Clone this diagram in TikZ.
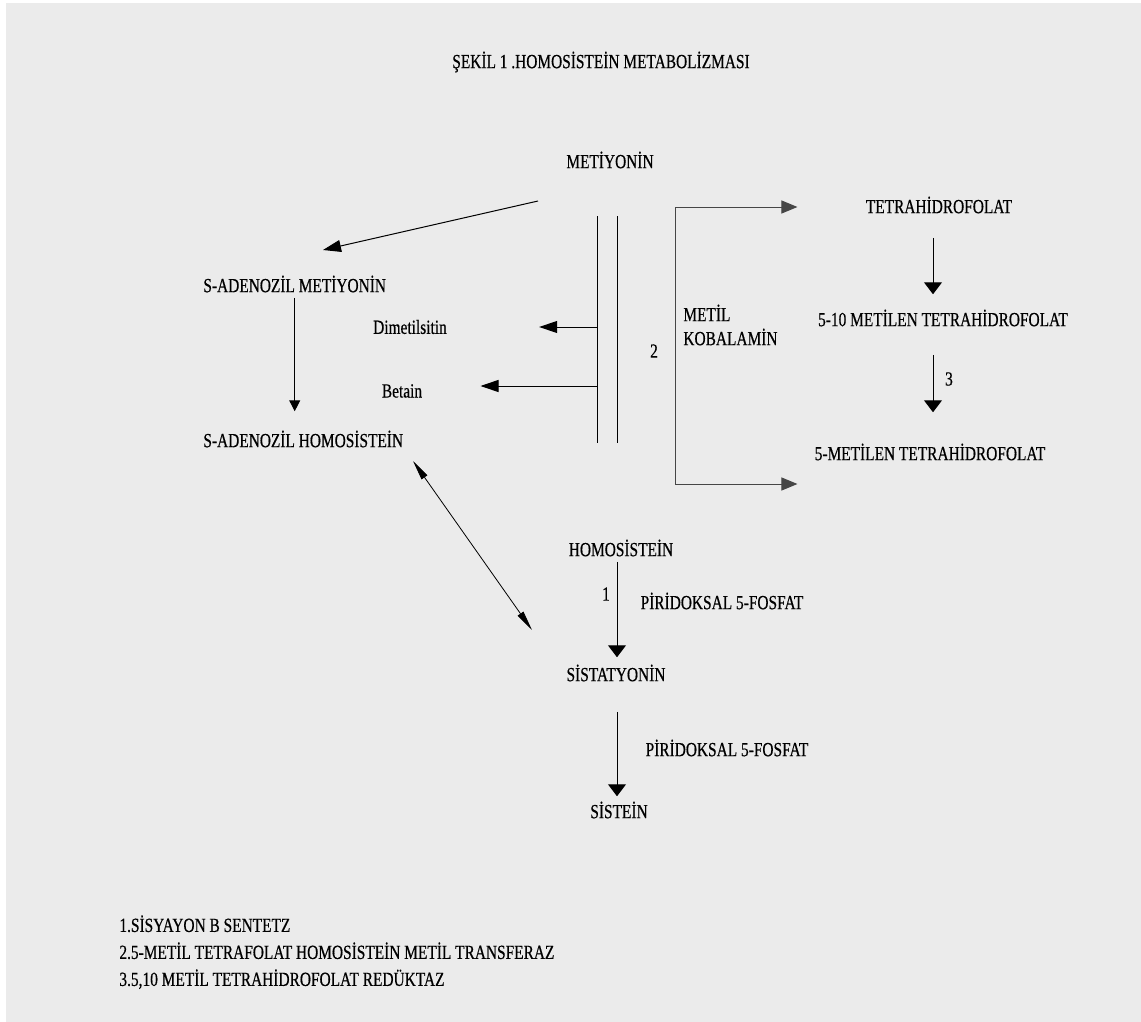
\documentclass[tikz,border=0pt]{standalone}
\usepackage{fontspec}
\setmainfont{Liberation Serif}[FakeStretch=0.77, FakeBold=0.5]
\usetikzlibrary{arrows.meta}
\definecolor{bggray}{RGB}{235,235,235}
\definecolor{linegray}{RGB}{70,70,70}

\begin{document}
\begin{tikzpicture}[x=0.5pt, y=-0.5pt,
    every node/.style={inner sep=0pt, font=\fontsize{10}{12}\selectfont},
    thinline/.style={line width=0.5pt},
    bigtip/.style={thinline, -{Triangle[length=6pt,width=9pt]}},
    sidetip/.style={thinline, -{Triangle[length=9pt,width=6pt]}},
    smalltip/.style={thinline, -{Triangle[length=5.5pt,width=5.5pt]}},
    bothtip/.style={line width=0.4pt, {Triangle[length=10pt,width=3.5pt]}-{Triangle[length=10pt,width=3.5pt]}}]

    % page
    \fill[white] (0,0) rectangle (1141,1022);
    \fill[bggray] (6,3) rectangle (1141,1022);
    \useasboundingbox (0,0) rectangle (1141,1022);

    \node (title) at (601,62) {ŞEKİL 1 .HOMOSİSTEİN METABOLİZMASI};

    \node (met) at (610,160) {METİYONİN};
    \node[anchor=west] (sam) at (203,284) {S-ADENOZİL METİYONİN};
    \node[anchor=west] (sah) at (203,439) {S-ADENOZİL HOMOSİSTEİN};
    \node (dim) at (410,327) {Dimetilsitin};
    \node (bet) at (402,391) {Betain};
    \node (two) at (654,351) {2};
    \node[anchor=west, align=left] (kob) at (683,325) {METİL\\KOBALAMİN};

    \node (thf) at (939,205) {TETRAHİDROFOLAT};
    \node (mthf) at (943,318) {5-10 METİLEN TETRAHİDROFOLAT};
    \node (three) at (949,379) {3};
    \node (fmthf) at (930,452) {5-METİLEN TETRAHİDROFOLAT};

    \node (hcy) at (621,548) {HOMOSİSTEİN};
    \node (one) at (606,594) {1};
    \node (pir1) at (722,601) {PİRİDOKSAL 5-FOSFAT};
    \node (cysta) at (616,673) {SİSTATYONİN};
    \node (pir2) at (727,748) {PİRİDOKSAL 5-FOSFAT};
    \node (cys) at (619,810) {SİSTEİN};

    \node[anchor=north west, align=left, font=\fontsize{10}{13.5}\selectfont] (key) at (119,915)
        {1.SİSYAYON B SENTETZ\\2.5-METİL TETRAFOLAT HOMOSİSTEİN METİL TRANSFERAZ\\3.5,10 METİL TETRAHİDROFOLAT REDÜKTAZ};

    % free ends
    \coordinate (metout) at (538,201);
    \coordinate (samin) at (323,250);
    \coordinate (barA) at (597,216);
    \coordinate (barB) at (617,216);
    \coordinate (kt) at (675,207);
    \coordinate (kb) at (675,484);
    \coordinate (sahout) at (413,461);
    \coordinate (hcyin) at (532,630);

    \draw[sidetip] (metout) -- (samin);
    \draw[smalltip, shorten <=2.5pt, shorten >=9.5pt] (sam.south) -- (sam.south |- sah.north);

    \draw[thinline] (barA) -- ++(0,227);
    \draw[thinline] (barB) -- ++(0,227);
    \draw[sidetip, shorten >=46pt] (barA |- dim) -- (dim.east);
    \draw[sidetip, shorten >=29pt] ([yshift=2.5pt]barA |- bet) -- ([yshift=2.5pt]bet.east);

    \draw[thinline, linegray] (kt) -- (kb);
    \draw[bigtip, linegray, -{Triangle[length=8pt,width=6.5pt]}, shorten >=34pt] (kt) -- (kt -| thf.west);
    \draw[bigtip, linegray, -{Triangle[length=8pt,width=6.5pt]}, shorten >=34pt] (kb) -- (kb -| thf.west);

    \draw[bigtip, shorten <=12pt, shorten >=7.5pt] ([xshift=-3pt]thf.south) -- ([xshift=-3pt]thf.south |- mthf.north);
    \draw[bigtip, shorten <=14pt, shorten >=15.5pt] ([xshift=-5pt]mthf.south) -- ([xshift=-5pt]mthf.south |- fmthf.north);

    \draw[bothtip] (sahout) -- (hcyin);

    \draw[bigtip, shorten <=2.5pt, shorten >=3.5pt] ([xshift=-2pt]hcy.south) -- ([xshift=-2pt]hcy.south |- cysta.north);
    \draw[bigtip, shorten <=15pt, shorten >=2.5pt] ([xshift=0.5pt]cysta.south) -- ([xshift=0.5pt]cysta.south |- cys.north);
\end{tikzpicture}
\end{document}
